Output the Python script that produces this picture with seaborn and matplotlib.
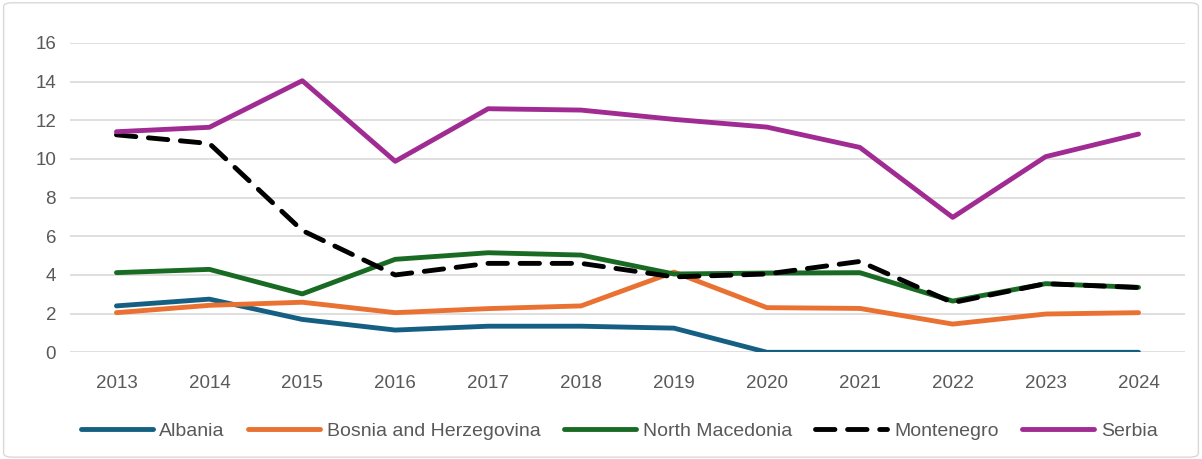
import matplotlib
matplotlib.use("Agg")
import matplotlib.pyplot as plt
import seaborn as sns
import pandas as pd
from matplotlib.patches import FancyBboxPatch

years = [2013, 2014, 2015, 2016, 2017, 2018, 2019, 2020, 2021, 2022, 2023, 2024]
albania = [2.40, 2.75, 1.70, 1.15, 1.35, 1.35, 1.25, 0.0, 0.0, 0.0, 0.0, 0.0]
bosnia = [2.05, 2.43, 2.59, 2.05, 2.26, 2.40, 4.15, 2.31, 2.27, 1.46, 1.98, 2.05]
north_macedonia = [4.12, 4.29, 3.02, 4.81, 5.15, 5.03, 4.05, 4.10, 4.12, 2.65, 3.55, 3.36]
montenegro = [11.25, 10.80, 6.30, 4.00, 4.60, 4.60, 3.90, 4.05, 4.70, 2.57, 3.55, 3.35]
serbia = [11.41, 11.64, 14.05, 9.88, 12.60, 12.53, 12.05, 11.65, 10.60, 6.98, 10.12, 11.29]

series_names = ["Albania", "Bosnia and Herzegovina", "North Macedonia", "Montenegro", "Serbia"]
series_values = [albania, bosnia, north_macedonia, montenegro, serbia]
colors = ["#156082", "#E97132", "#196B24", "#000000", "#A02B93"]

sns.set_theme(style="white")
plt.rcParams["font.family"] = ["Liberation Sans", "DejaVu Sans"]

fig = plt.figure(figsize=(12.02, 4.59), dpi=100)
ax = fig.add_axes([70 / 1202, 1 - 352.3 / 459, (1185 - 70) / 1202, (352.3 - 43) / 459])

for name, vals, col in zip(series_names, series_values, colors):
    df = pd.DataFrame({"year": years, "value": vals})
    ls = (0, (4.0, 2.6)) if name == "Montenegro" else "-"
    sns.lineplot(data=df, x="year", y="value", ax=ax, color=col, linewidth=3.5,
                 linestyle=ls, label=name, legend=False,
                 solid_capstyle="round", dash_capstyle="round")

ax.set_xlim(2012.5, 2024.5)
ax.set_ylim(0, 16)
ax.set_yticks(range(0, 17, 2))
ax.set_xticks(years)
ax.set_xticklabels([str(y) for y in years])
ax.yaxis.grid(True, color="#D9D9D9", linewidth=1.2)
ax.xaxis.grid(False)
ax.set_axisbelow(True)
for s in ax.spines.values():
    s.set_visible(False)
ax.tick_params(axis="x", length=0, pad=16, labelsize=13.5, labelcolor="#595959")
ax.tick_params(axis="y", length=0, pad=10, labelsize=13.5, labelcolor="#595959")
ax.set_xlabel("")
ax.set_ylabel("")

handles, labels = ax.get_legend_handles_labels()
fig.legend(handles, labels, loc="center", bbox_to_anchor=(0.515, 0.061), ncol=5,
           frameon=False, fontsize=14, handlelength=3.7, handletextpad=0.35,
           columnspacing=1.2, labelcolor="#595959")

border = FancyBboxPatch((0.003, 0.004), 0.994, 0.99, boxstyle="round,pad=0,rounding_size=0.008",
                        transform=fig.transFigure, fill=False, edgecolor="#D9D9D9", linewidth=1.0)
fig.patches.append(border)

fig.savefig("out.png", dpi=100, facecolor="white")
